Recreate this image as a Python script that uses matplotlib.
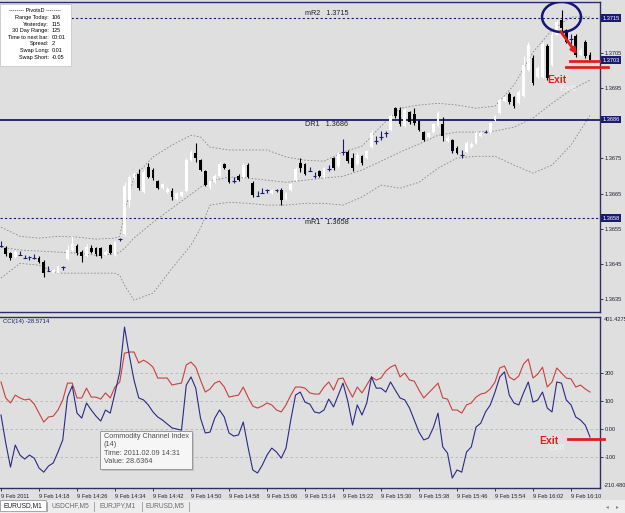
import numpy as np
import matplotlib
matplotlib.use('Agg')
import matplotlib.pyplot as plt
import matplotlib.transforms as mtransforms
from matplotlib.patches import Ellipse, Rectangle, FancyArrowPatch

# EURUSD M1, 9 Feb 2011 14:10 .. 16:14 (one candle per minute)
opens = [1.36503, 1.36494, 1.36480, 1.36469, 1.36477, 1.36469, 1.36471, 1.36467, 1.36466, 1.36454,
         1.36432, 1.36426, 1.36423, 1.36443, 1.36463, 1.36489, 1.36500, 1.36483, 1.36471, 1.36494,
         1.36494, 1.36494, 1.36474, 1.36503, 1.36474, 1.36523, 1.36534, 1.36631, 1.36694, 1.36705,
         1.36654, 1.36725, 1.36717, 1.36685, 1.36665, 1.36654, 1.36657, 1.36634, 1.36642, 1.36657,
         1.36745, 1.36765, 1.36745, 1.36714, 1.36668, 1.36682, 1.36699, 1.36734, 1.36717, 1.36688,
         1.36699, 1.36697, 1.36731, 1.36679, 1.36645, 1.36654, 1.36662, 1.36651, 1.36662, 1.36660,
         1.36634, 1.36660, 1.36688, 1.36736, 1.36734, 1.36717, 1.36702, 1.36714, 1.36697, 1.36722,
         1.36751, 1.36728, 1.36771, 1.36768, 1.36751, 1.36734, 1.36756, 1.36751, 1.36782, 1.36802,
         1.36813, 1.36822, 1.36831, 1.36893, 1.36888, 1.36842, 1.36882, 1.36876, 1.36856, 1.36825,
         1.36811, 1.36825, 1.36842, 1.36848, 1.36799, 1.36802, 1.36779, 1.36762, 1.36768, 1.36782,
         1.36793, 1.36813, 1.36828, 1.36825, 1.36859, 1.36879, 1.36913, 1.36933, 1.36925, 1.36907,
         1.36927, 1.37002, 1.37036, 1.36982, 1.36982, 1.37070, 1.37016, 1.37101, 1.37144, 1.37116,
         1.37093, 1.37098, 1.37044, 1.37081, 1.37044]
highs = [1.36514, 1.36500, 1.36483, 1.36489, 1.36486, 1.36474, 1.36471, 1.36477, 1.36471, 1.36460,
         1.36443, 1.36434, 1.36446, 1.36443, 1.36503, 1.36528, 1.36506, 1.36489, 1.36506, 1.36503,
         1.36497, 1.36497, 1.36489, 1.36506, 1.36514, 1.36524, 1.36682, 1.36702, 1.36711, 1.36719,
         1.36719, 1.36736, 1.36722, 1.36688, 1.36679, 1.36668, 1.36665, 1.36654, 1.36657, 1.36751,
         1.36774, 1.36793, 1.36748, 1.36717, 1.36688, 1.36705, 1.36739, 1.36736, 1.36719, 1.36697,
         1.36705, 1.36736, 1.36736, 1.36685, 1.36657, 1.36665, 1.36662, 1.36662, 1.36664, 1.36665,
         1.36654, 1.36679, 1.36725, 1.36751, 1.36736, 1.36725, 1.36711, 1.36717, 1.36725, 1.36731,
         1.36754, 1.36768, 1.36805, 1.36774, 1.36765, 1.36768, 1.36759, 1.36774, 1.36831, 1.36813,
         1.36828, 1.36828, 1.36876, 1.36896, 1.36896, 1.36893, 1.36885, 1.36893, 1.36859, 1.36828,
         1.36825, 1.36850, 1.36885, 1.36868, 1.36813, 1.36805, 1.36785, 1.36774, 1.36799, 1.36796,
         1.36828, 1.36828, 1.36831, 1.36853, 1.36873, 1.36922, 1.36927, 1.36939, 1.36927, 1.36945,
         1.37041, 1.37081, 1.37044, 1.37013, 1.37081, 1.37076, 1.37116, 1.37144, 1.37173, 1.37118,
         1.37104, 1.37104, 1.37064, 1.37087, 1.37053]
lows = [1.36497, 1.36471, 1.36460, 1.36466, 1.36474, 1.36466, 1.36460, 1.36464, 1.36451, 1.36412,
        1.36429, 1.36423, 1.36423, 1.36432, 1.36460, 1.36486, 1.36474, 1.36454, 1.36469, 1.36480,
        1.36471, 1.36466, 1.36471, 1.36477, 1.36471, 1.36514, 1.36528, 1.36611, 1.36691, 1.36660,
        1.36651, 1.36694, 1.36688, 1.36662, 1.36662, 1.36651, 1.36631, 1.36631, 1.36640, 1.36654,
        1.36742, 1.36739, 1.36714, 1.36671, 1.36662, 1.36679, 1.36697, 1.36719, 1.36679, 1.36679,
        1.36685, 1.36694, 1.36694, 1.36640, 1.36642, 1.36651, 1.36651, 1.36648, 1.36654, 1.36617,
        1.36631, 1.36657, 1.36685, 1.36711, 1.36702, 1.36714, 1.36694, 1.36697, 1.36694, 1.36714,
        1.36717, 1.36722, 1.36759, 1.36736, 1.36714, 1.36731, 1.36731, 1.36748, 1.36779, 1.36791,
        1.36802, 1.36811, 1.36828, 1.36865, 1.36842, 1.36839, 1.36848, 1.36845, 1.36828, 1.36799,
        1.36808, 1.36822, 1.36839, 1.36799, 1.36796, 1.36765, 1.36762, 1.36751, 1.36765, 1.36779,
        1.36791, 1.36811, 1.36822, 1.36822, 1.36856, 1.36876, 1.36910, 1.36905, 1.36893, 1.36905,
        1.36925, 1.36999, 1.36959, 1.36979, 1.36979, 1.36973, 1.37013, 1.37098, 1.37113, 1.37078,
        1.37076, 1.37039, 1.37041, 1.37036, 1.37027]
closes = [1.36500, 1.36477, 1.36466, 1.36483, 1.36476, 1.36467, 1.36470, 1.36466, 1.36454, 1.36423,
          1.36430, 1.36432, 1.36443, 1.36441, 1.36489, 1.36506, 1.36480, 1.36471, 1.36497, 1.36483,
          1.36477, 1.36471, 1.36483, 1.36480, 1.36511, 1.36521, 1.36671, 1.36697, 1.36705, 1.36665,
          1.36711, 1.36697, 1.36694, 1.36665, 1.36677, 1.36662, 1.36640, 1.36651, 1.36654, 1.36745,
          1.36768, 1.36751, 1.36717, 1.36674, 1.36685, 1.36699, 1.36734, 1.36722, 1.36682, 1.36687,
          1.36688, 1.36731, 1.36697, 1.36645, 1.36644, 1.36652, 1.36661, 1.36660, 1.36661, 1.36631,
          1.36651, 1.36677, 1.36719, 1.36722, 1.36705, 1.36715, 1.36701, 1.36699, 1.36722, 1.36721,
          1.36722, 1.36762, 1.36768, 1.36742, 1.36722, 1.36759, 1.36736, 1.36771, 1.36822, 1.36801,
          1.36812, 1.36821, 1.36870, 1.36870, 1.36848, 1.36888, 1.36853, 1.36850, 1.36831, 1.36802,
          1.36822, 1.36848, 1.36879, 1.36813, 1.36808, 1.36771, 1.36765, 1.36761, 1.36793, 1.36791,
          1.36822, 1.36822, 1.36826, 1.36850, 1.36870, 1.36916, 1.36925, 1.36910, 1.36899, 1.36939,
          1.37016, 1.37073, 1.36964, 1.37007, 1.37076, 1.36979, 1.37101, 1.37138, 1.37121, 1.37081,
          1.37091, 1.37044, 1.37059, 1.37041, 1.37030]

# Bollinger bands (candle index -> price)
bb_t = [0, 4, 8, 12, 16, 20, 24, 25, 26, 28, 32, 36, 40, 42, 44, 48, 52, 56, 60, 64, 68,
        72, 76, 80, 84, 88, 92, 96, 100, 104, 108, 112, 116, 120, 124]
bb_upper = [1.36554, 1.36528, 1.36523, 1.36528, 1.36526, 1.36520, 1.36523, 1.36528, 1.36597, 1.36697,
            1.36754, 1.36788, 1.36816, 1.36811, 1.36782, 1.36774, 1.36774, 1.36774, 1.36754, 1.36745,
            1.36742, 1.36768, 1.36785, 1.36842, 1.36893, 1.36902, 1.36907, 1.36902, 1.36893, 1.36899,
            1.36959, 1.37053, 1.37116, 1.37153, 1.37153]
bb_mid = [1.36497, 1.36489, 1.36486, 1.36483, 1.36480, 1.36474, 1.36477, 1.36483, 1.36494, 1.36523,
          1.36568, 1.36608, 1.36648, 1.36668, 1.36685, 1.36697, 1.36694, 1.36688, 1.36682, 1.36688,
          1.36694, 1.36699, 1.36717, 1.36742, 1.36768, 1.36791, 1.36816, 1.36825, 1.36825, 1.36828,
          1.36839, 1.36865, 1.36907, 1.36945, 1.36973]
bb_lower = [1.36409, 1.36451, 1.36446, 1.36423, 1.36423, 1.36423, 1.36423, 1.36417, 1.36389, 1.36346,
            1.36366, 1.36437, 1.36503, 1.36551, 1.36617, 1.36625, 1.36622, 1.36617, 1.36617, 1.36622,
            1.36622, 1.36617, 1.36640, 1.36674, 1.36665, 1.36682, 1.36722, 1.36751, 1.36756, 1.36756,
            1.36731, 1.36708, 1.36731, 1.36788, 1.36873]

pivots = [("mR2", 1.3715), ("DR1", 1.3686), ("mR1", 1.3658)]

cci = [50, -50, -136, -57, -93, -107, -93, -104, -139, -154,
       -132, -121, -82, -39, 114, 154, 57, 39, 93, 68,
       46, 28.6364, 68, 57, 129, 204, 364, 264, 175, 111,
       104, 86, 61, 43, 32, 18, 4, 0, -4, 157,
       186, 146, 39, -14, -11, 39, 68, 43, -14, -25,
       -21, 25, -64, -146, -157, -129, -93, -68, -82, -104,
       -68, 32, 121, 132, 96, 89, 61, 57, 68, 107,
       79, 121, 164, 100, 14, 86, 50, 93, 186, 146,
       146, 132, 168, 139, 111, 104, 75, 32, -11, -39,
       -32, 4, 57, -64, -86, -175, -146, -154, -82, -64,
       7, 21, 61, 86, 132, 186, 204, 121, 93, 86,
       129, 168, 96, 104, 132, 75, 61, 168, 164, 104,
       86, 43, 32, 14, -28.5714]
cci_slow = [168, 111, 93, 121, 111, 104, 107, 89, 57, 25,
            43, 46, 68, 104, 164, 164, 111, 111, 146, 114,
            114, 107, 129, 111, 150, 168, 271, 275, 275, 236,
            246, 236, 221, 182, 182, 182, 157, 161, 164, 229,
            239, 221, 175, 132, 143, 164, 171, 150, 114, 118,
            121, 150, 114, 82, 75, 82, 93, 86, 68, 61,
            86, 121, 150, 150, 146, 129, 125, 125, 150, 168,
            139, 179, 182, 146, 114, 150, 129, 157, 186, 175,
            182, 207, 221, 229, 186, 200, 175, 171, 139, 111,
            129, 146, 164, 111, 107, 68, 68, 57, 86, 93,
            114, 125, 129, 143, 168, 218, 225, 186, 175, 189,
            232, 250, 182, 196, 221, 150, 168, 218, 200, 182,
            179, 150, 157, 143, 132]

time_ticks = list(range(0, 121, 8))
time_labels = ["9 Feb 2011", "9 Feb 14:18", "9 Feb 14:26", "9 Feb 14:34", "9 Feb 14:42",
               "9 Feb 14:50", "9 Feb 14:58", "9 Feb 15:06", "9 Feb 15:14", "9 Feb 15:22",
               "9 Feb 15:30", "9 Feb 15:38", "9 Feb 15:46", "9 Feb 15:54", "9 Feb 16:02",
               "9 Feb 16:10"]
price_ticks = [1.3635, 1.3645, 1.3655, 1.3665, 1.3675, 1.3695, 1.3705]
price_boxes = [1.3715, 1.3703, 1.3686, 1.3658]
cci_ticks = [200, 100, 0, -100]
cci_tick_labels = ["200", "100", "0.00", "-100"]

info_rows = [("Range Today:", "106"), ("Yesterday:", "115"), ("30 Day Range:", "125"),
             ("Time to next bar:", "00:01"), ("Spread:", "2"), ("Swap Long:", "0.01"),
             ("Swap Short:", "-0.05")]
tabs = ["EURUSD,M1", "USDCHF,M5", "EURJPY,M1", "EURUSD,M5"]

W, H = 625, 513


def fx(px):
    return px / W


def fy(py):
    return 1 - py / H


plt.rcParams['font.family'] = ['Liberation Sans', 'DejaVu Sans']
BG = '#dfdfdf'
NAVY = '#1c1c6e'
RED = '#e01e1e'
TXT = '#202030'
SMALL = 4.1

fig = plt.figure(figsize=(6.25, 5.13), dpi=100)
fig.patch.set_facecolor(BG)

ax1 = fig.add_axes([0, fy(312), fx(600), 310 / H])
ax2 = fig.add_axes([0, fy(488), fx(600), (488 - 316.6) / H])
for ax in (ax1, ax2):
    ax.set_facecolor(BG)
    for s in ax.spines.values():
        s.set_color('#2e2e66')
        s.set_linewidth(1.0)
    ax.spines['left'].set_visible(False)
    ax.set_xlim(-0.21, 126.1)

# ---- price panel ----
o = np.array(opens)
h = np.array(highs)
l = np.array(lows)
c = np.array(closes)
x = np.arange(len(c))
doji = np.abs(c - o) < 0.000035
up = (c > o) & ~doji
dn = (c < o) & ~doji

ax1.set_ylim(1.363124, 1.371956)

for band in (bb_upper, bb_mid, bb_lower):
    ax1.plot(bb_t, band, color='#8a8a8a', lw=0.6, ls=(0, (2, 2)), zorder=1)

for name, lvl in pivots:
    if name == "DR1":
        ax1.axhline(lvl, color=NAVY, lw=1.3, zorder=2)
    else:
        ax1.axhline(lvl, color=NAVY, lw=0.8, ls=(0, (2, 2)), zorder=2)
    va = 'bottom' if name == "mR2" else 'top'
    off = 0.00003 if name == "mR2" else -0.00003
    ax1.text(64, lvl + off, f"{name}   {lvl:.4f}", fontsize=5.2, color=TXT, va=va, ha='left', zorder=6)

ax1.vlines(x[up], l[up], h[up], color='white', lw=0.8, zorder=3)
ax1.vlines(x[dn], l[dn], h[dn], color='black', lw=0.8, zorder=3)
ax1.vlines(x[doji], l[doji], h[doji], color=NAVY, lw=0.8, zorder=3)
ax1.bar(x[up], (c - o)[up], bottom=o[up], width=0.62, color='white', lw=0, zorder=4)
ax1.bar(x[dn], (c - o)[dn], bottom=o[dn], width=0.62, color='black', lw=0, zorder=4)
ax1.hlines(c[doji], x[doji] - 0.4, x[doji] + 0.4, color=NAVY, lw=0.8, zorder=4)

ax1.yaxis.tick_right()
ax1.set_yticks(price_ticks)
ax1.set_yticklabels([f"{p:.4f}" for p in price_ticks])
ax1.tick_params(axis='y', labelsize=SMALL, length=2, pad=1.5, colors=TXT, width=0.6)
ax1.set_xticks([])

tr1 = mtransforms.blended_transform_factory(ax1.transAxes, ax1.transData)
for p in price_boxes:
    ax1.text(1.004, p, f"{p:.4f}", transform=tr1, fontsize=SMALL, color='white', va='center', ha='left',
             bbox=dict(boxstyle='square,pad=0.2', fc=NAVY, ec='none'), clip_on=False, zorder=8)

# annotations on price panel
ax1.add_patch(Ellipse((118, 1.37153), 8.2, 0.00086, fill=False, ec='#14147a', lw=1.8, zorder=7))
ax1.add_patch(FancyArrowPatch((117.5, 1.37118), (121.6, 1.37040), arrowstyle='-|>', mutation_scale=8,
                              color=RED, lw=2.0, zorder=7))
ax1.plot([119.8, 127.8], [1.37027, 1.37027], color=RED, lw=2.0, clip_on=False, zorder=7)
ax1.plot([119.0, 127.8], [1.37010, 1.37010], color=RED, lw=2.0, clip_on=False, zorder=7)
ax1.text(119.2, 1.36950, "Exit", fontsize=6.5, color='white', alpha=0.5, fontweight='bold', ha='center',
         va='center', zorder=7)
ax1.text(117.0, 1.36973, "Exit", fontsize=7.5, color=RED, fontweight='bold', ha='center', va='center', zorder=8)

# ---- CCI panel ----
ax2.set_ylim(-210.48, 401.4275)
for v in cci_ticks:
    ax2.axhline(v, color='#b4b4b4', lw=0.6, ls=(0, (3, 3)), zorder=1)
ax2.plot(x, cci_slow, color='#c84040', lw=0.8, zorder=3)
ax2.plot(x, cci, color='#2a2a86', lw=0.8, zorder=3)

ax2.yaxis.tick_right()
ax2.set_yticks(cci_ticks)
ax2.set_yticklabels(cci_tick_labels)
ax2.tick_params(axis='y', labelsize=SMALL, length=2, pad=1.5, colors=TXT, width=0.6)
tr2 = mtransforms.blended_transform_factory(ax2.transAxes, ax2.transData)
ax2.text(1.006, 401.4275, "401.4275", transform=tr2, fontsize=SMALL, color=TXT, va='top', ha='left',
         clip_on=False)
ax2.text(1.006, -210.48, "-210.480", transform=tr2, fontsize=SMALL, color=TXT, va='bottom', ha='left',
         clip_on=False)

ax2.set_xticks(time_ticks)
ax2.set_xticklabels(time_labels)
ax2.tick_params(axis='x', labelsize=SMALL, length=2, pad=2, colors=TXT, width=0.6)
for lbl in ax2.get_xticklabels():
    lbl.set_ha('left')

ax2.text(0.005, 0.985, "CCI(14) -28.5714", transform=ax2.transAxes, fontsize=4.3, color=NAVY,
         va='top', ha='left')

ax2.plot([119.4, 127.0], [-36, -36], color=RED, lw=2.0, clip_on=False, zorder=7)
ax2.text(117.0, -66, "Exit", fontsize=6.5, color='white', alpha=0.5, fontweight='bold', ha='center',
         va='center', zorder=7)
ax2.text(115.4, -44, "Exit", fontsize=7.5, color=RED, fontweight='bold', ha='center', va='center', zorder=8)

# tooltip
fig.patches.append(Rectangle((fx(102), fy(471)), fx(92), 38 / H, transform=fig.transFigure,
                             fc='#a8a8a8', ec='none', alpha=0.5, zorder=9))
fig.patches.append(Rectangle((fx(100), fy(469)), fx(92), 38 / H, transform=fig.transFigure,
                             fc='#f6f6f6', ec='#8c8c8c', lw=0.6, zorder=10))
tip = ["Commodity Channel Index", "(14)", "Time: 2011.02.09 14:31", "Value: 28.6364"]
for k, t in enumerate(tip):
    fig.text(fx(104), fy(436 + 8.6 * k), t, fontsize=5.2, color='#505050', va='center', ha='left', zorder=11)

# info box (PivotsD)
fig.patches.append(Rectangle((0, fy(66)), fx(71), 62 / H, transform=fig.transFigure,
                             fc='white', ec='#c0c0c0', lw=0.5, zorder=10))
fig.text(fx(35), fy(10), "-------- PivotsD --------", fontsize=4.0, color='black', ha='center', va='center',
         zorder=11)
for k, (lab, val) in enumerate(info_rows):
    yy = fy(17.5 + 6.6 * k)
    fig.text(fx(49), yy, lab, fontsize=4.0, color='black', ha='right', va='center', zorder=11)
    fig.text(fx(52), yy, val, fontsize=4.0, color='black', ha='left', va='center', zorder=11)

# tab bar
axt = fig.add_axes([0, 0, 1, 13 / H])
axt.set_facecolor('#ededed')
axt.set_xlim(0, W)
axt.set_ylim(13, 0)
axt.set_xticks([])
axt.set_yticks([])
for s in axt.spines.values():
    s.set_visible(False)
axt.add_patch(Rectangle((0, 0), 46, 11, fc='white', ec='#9a9a9a', lw=0.6))
tab_x = [23, 70, 118, 165]
for k, t in enumerate(tabs):
    axt.text(tab_x[k], 6, t, fontsize=4.8, color='#202020' if k == 0 else '#6a6a6a', ha='center', va='center')
    axt.plot([tab_x[k] + 24, tab_x[k] + 24], [2, 11], color='#9a9a9a', lw=0.6)
axt.text(607, 6.5, "\u25c2", fontsize=4, color='#808080', ha='center', va='center', family='DejaVu Sans')
axt.text(617, 6.5, "\u25b8", fontsize=4, color='#808080', ha='center', va='center', family='DejaVu Sans')

fig.savefig('out.png', dpi=100, facecolor=fig.get_facecolor())
